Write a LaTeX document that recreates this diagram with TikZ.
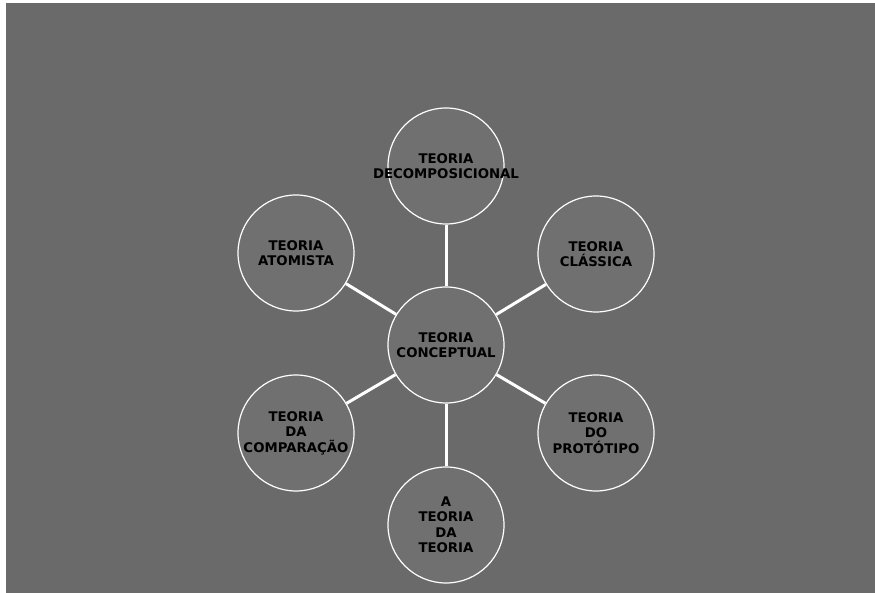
\documentclass[tikz,border=0pt]{standalone}
\usepackage{fontspec}
\setmainfont{DejaVu Sans}
\definecolor{slate}{RGB}{106,106,106}
\definecolor{disc}{RGB}{112,112,112}
\begin{document}
\begin{tikzpicture}[x=1pt,y=1pt]

        \useasboundingbox (0,0) rectangle (875,593);
        \fill[slate] (6,0) rectangle (875,590);

        \begin{scope}[every node/.style={circle,draw=white,line width=1.2pt,fill=disc,
            minimum size=116pt,inner sep=0pt,align=center,
            font=\fontsize{13.3}{15.5}\selectfont\bfseries}]
          \node (1)  at (446,248)  {TEORIA\\CONCEPTUAL};
          \node (2)  at (446,427)  {TEORIA\\\makebox[0pt]{DECOMPOSICIONAL}};
          \node (3)  at (596,339)  {TEORIA\\CLÁSSICA};
          \node (4)  at (596,160)  {TEORIA\\DO\\PROTÓTIPO};
          \node (5)  at (446,68)   {A\\TEORIA\\DA\\TEORIA};
          \node (6)  at (296,160)  {TEORIA\\DA\\COMPARAÇÃO};
          \node (7)  at (296,340)  {TEORIA\\ATOMISTA};
        \end{scope}

        \begin{scope}[every edge/.style={draw=white,line width=3pt}]
          \path (1)  edge (2);
          \path (1)  edge (3);
          \path (1)  edge (4);
          \path (1)  edge (5);
          \path (1)  edge (6);
          \path (1)  edge (7);
        \end{scope}

      \end{tikzpicture}
\end{document}
